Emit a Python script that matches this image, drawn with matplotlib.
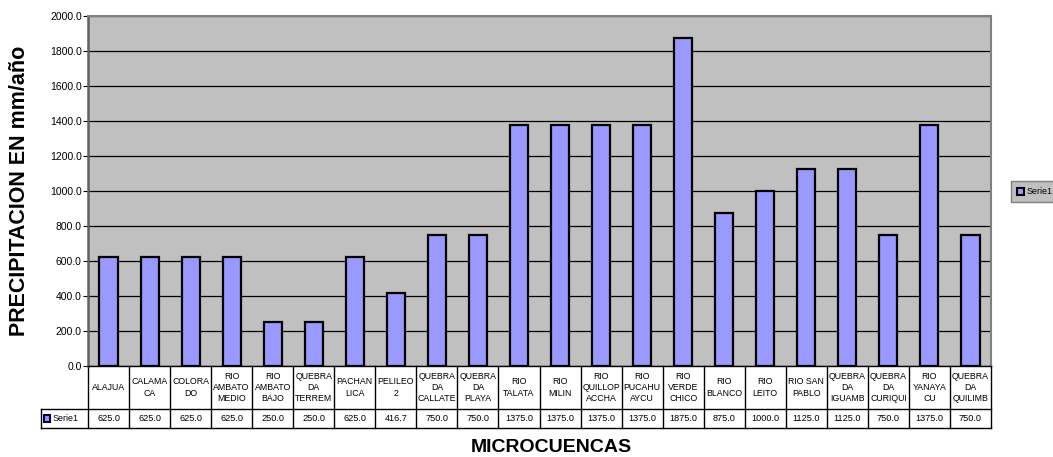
import matplotlib
matplotlib.use("Agg")
import matplotlib.pyplot as plt
from matplotlib.patches import Rectangle
import matplotlib.transforms as mtransforms

plt.rcParams['font.family'] = ['Liberation Sans', 'DejaVu Sans']

# DATA
categories = ["ALAJUA", "CALAMA\nCA", "COLORA\nDO", "RIO\nAMBATO\nMEDIO", "RIO\nAMBATO\nBAJO",
              "QUEBRA\nDA\nTERREM", "PACHAN\nLICA", "PELILEO\n2", "QUEBRA\nDA\nCALLATE",
              "QUEBRA\nDA\nPLAYA", "RIO\nTALATA", "RIO\nMILIN", "RIO\nQUILLOP\nACCHA",
              "RIO\nPUCAHU\nAYCU", "RIO\nVERDE\nCHICO", "RIO\nBLANCO", "RIO\nLEITO",
              "RIO SAN\nPABLO", "QUEBRA\nDA\nIGUAMB", "QUEBRA\nDA\nCURIQUI", "RIO\nYANAYA\nCU",
              "QUEBRA\nDA\nQUILIMB"]
values = [625.0, 625.0, 625.0, 625.0, 250.0, 250.0, 625.0, 416.7, 750.0, 750.0, 1375.0,
          1375.0, 1375.0, 1375.0, 1875.0, 875.0, 1000.0, 1125.0, 1125.0, 750.0, 1375.0, 750.0]
yticks = [0, 200, 400, 600, 800, 1000, 1200, 1400, 1600, 1800, 2000]
series_name = "Serie1"

BAR = "#9999FF"
BG = "#C0C0C0"

W, H = 1053, 457
fig = plt.figure(figsize=(W / 100, H / 100), dpi=100)
left, right, top, bottom = 88, 991, 16, 366
ax = fig.add_axes([left / W, 1 - bottom / H, (right - left) / W, (bottom - top) / H])
ax.set_facecolor(BG)

n = len(categories)
x = list(range(n))
ax.bar(x, values, width=0.44, color=BAR, edgecolor="black", linewidth=1.6, zorder=3)
ax.set_xlim(-0.5, n - 0.5)
ax.set_ylim(0, 2000)
ax.set_yticks(yticks)
ax.set_yticklabels([f"{v:.1f}" for v in yticks], fontsize=7.5)
ax.yaxis.grid(True, color="black", linewidth=0.9, zorder=1)
ax.set_xticks([])
ax.tick_params(axis="y", length=3.5, width=0.8, pad=1)
for side in ["top", "right"]:
    ax.spines[side].set_color("#808080")
    ax.spines[side].set_linewidth(1.5)
ax.spines["left"].set_color("#606060")
ax.spines["left"].set_linewidth(1.8)
ax.spines["bottom"].set_color("black")
ax.spines["bottom"].set_linewidth(1)

# DATA TABLE
ph = bottom - top
r1 = -43 / ph
r2 = -62 / ph
trans = mtransforms.blended_transform_factory(ax.transData, ax.transAxes)
lab_left = -0.5 - (left - 41) / ((right - left) / n)
for i in range(n + 1):
    ax.plot([i - 0.5, i - 0.5], [0, r2], color="black", lw=1, transform=trans, clip_on=False)
for yy in [r1, r2]:
    ax.plot([lab_left, n - 0.5], [yy, yy], color="black", lw=1, transform=trans, clip_on=False)
ax.plot([lab_left, lab_left], [r1, r2], color="black", lw=1, transform=trans, clip_on=False)
for i, (c, v) in enumerate(zip(categories, values)):
    ax.text(i, r1 / 2, c, transform=trans, ha="center", va="center", fontsize=6.3,
            linespacing=1.35)
    ax.text(i, (r1 + r2) / 2, f"{v:.1f}", transform=trans, ha="center", va="center",
            fontsize=6.6)
ax.add_patch(Rectangle((lab_left + 0.08, (r1 + r2) / 2 - 0.011), 0.15, 0.022,
                       transform=trans, facecolor=BAR, edgecolor="#000040", lw=1.5,
                       clip_on=False))
ax.text(lab_left + 0.28, (r1 + r2) / 2, series_name, transform=trans, ha="left",
        va="center", fontsize=6.4)

# AXIS TITLES
fig.text(20 / W, 1 - 191 / H, "PRECIPITACION EN mm/año", rotation=90, ha="center",
         va="center", fontsize=15.5, fontweight="bold")
fig.text(551 / W, 1 - 447 / H, "MICROCUENCAS", ha="center", va="center",
         fontsize=14, fontweight="bold")

# LEGEND
fig.patches.append(Rectangle((1011 / W, 1 - 202 / H), 60 / W, 21 / H, transform=fig.transFigure,
                             facecolor=BG, edgecolor="#808080", lw=1))
fig.patches.append(Rectangle((1017 / W, 1 - 195 / H), 6.5 / W, 7 / H, transform=fig.transFigure,
                             facecolor=BAR, edgecolor="black", lw=1.5))
fig.text(1027 / W, 1 - 191.5 / H, series_name, ha="left", va="center", fontsize=6.4)

fig.savefig("out.png", dpi=100)
